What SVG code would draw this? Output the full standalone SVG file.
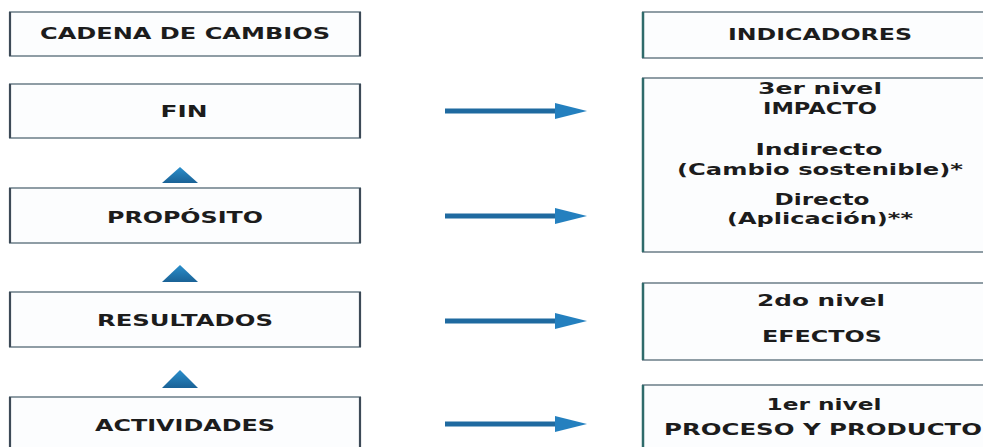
<svg xmlns="http://www.w3.org/2000/svg" width="983" height="447" viewBox="0 0 983 447">
<defs>
<style>
.box{fill:#fcfdfe;stroke:#8f9da5;stroke-width:2}
.edge{stroke:#3d4a57;stroke-width:2.2}
.edgeR{stroke:#2f6b6b;stroke-width:2.5}
.t{font-family:"DejaVu Sans","Liberation Sans",sans-serif;font-weight:bold;font-size:15px;fill:#1c1c1c;text-anchor:middle}
.arr{stroke:#1f6aa0;stroke-width:5;fill:none}
.head{fill:#2480bf}
.tri{fill:url(#tg)}
</style>
<linearGradient id="tg" x1="0" y1="0" x2="0" y2="1">
<stop offset="0" stop-color="#2a8fcc"/>
<stop offset="1" stop-color="#1a6296"/>
</linearGradient>
</defs>
<rect width="983" height="447" fill="#ffffff"/>

<g id="cadena">
<rect class="box" x="10" y="12" width="350" height="44"/>
<line class="edge" x1="10" y1="12" x2="10" y2="56"/><line class="edge" x1="360" y1="12" x2="360" y2="56"/>
<text class="t" x="185" y="39" textLength="290" lengthAdjust="spacingAndGlyphs">CADENA DE CAMBIOS</text>
</g>
<g id="fin">
<rect class="box" x="10" y="84" width="350" height="54"/>
<line class="edge" x1="10" y1="84" x2="10" y2="138"/><line class="edge" x1="360" y1="84" x2="360" y2="138"/>
<text class="t" x="184" y="117" textLength="47" lengthAdjust="spacingAndGlyphs">FIN</text>
</g>
<g id="proposito">
<rect class="box" x="10" y="188" width="350" height="55"/>
<line class="edge" x1="10" y1="188" x2="10" y2="243"/><line class="edge" x1="360" y1="188" x2="360" y2="243"/>
<text class="t" x="185" y="223" textLength="156" lengthAdjust="spacingAndGlyphs">PROPÓSITO</text>
</g>
<g id="resultados">
<rect class="box" x="10" y="292" width="350" height="55"/>
<line class="edge" x1="10" y1="292" x2="10" y2="347"/><line class="edge" x1="360" y1="292" x2="360" y2="347"/>
<text class="t" x="185" y="326" textLength="176" lengthAdjust="spacingAndGlyphs">RESULTADOS</text>
</g>
<g id="actividades">
<rect class="box" x="10" y="397" width="350" height="60"/>
<line class="edge" x1="10" y1="397" x2="10" y2="447"/><line class="edge" x1="360" y1="397" x2="360" y2="447"/>
<text class="t" x="185" y="431" textLength="180" lengthAdjust="spacingAndGlyphs">ACTIVIDADES</text>
</g>

<g id="indicadores">
<rect class="box" x="643" y="12" width="360" height="46"/>
<line class="edgeR" x1="643" y1="12" x2="643" y2="58"/>
<text class="t" x="820" y="40" textLength="184" lengthAdjust="spacingAndGlyphs">INDICADORES</text>
</g>
<g id="nivel3">
<rect class="box" x="643" y="78" width="360" height="174"/>
<line class="edgeR" x1="643" y1="78" x2="643" y2="252"/>
<text class="t" x="820" y="94" textLength="124" lengthAdjust="spacingAndGlyphs">3er nivel</text>
<text class="t" x="820" y="114" textLength="114" lengthAdjust="spacingAndGlyphs">IMPACTO</text>
<text class="t" x="819" y="155" textLength="127" lengthAdjust="spacingAndGlyphs">Indirecto</text>
<text class="t" x="820" y="175" textLength="286" lengthAdjust="spacingAndGlyphs">(Cambio sostenible)*</text>
<text class="t" x="822" y="205" textLength="95" lengthAdjust="spacingAndGlyphs">Directo</text>
<text class="t" x="820" y="224" textLength="186" lengthAdjust="spacingAndGlyphs">(Aplicación)**</text>
</g>
<g id="nivel2">
<rect class="box" x="643" y="283" width="360" height="77"/>
<line class="edgeR" x1="643" y1="283" x2="643" y2="360"/>
<text class="t" x="821" y="306" textLength="128" lengthAdjust="spacingAndGlyphs">2do nivel</text>
<text class="t" x="822" y="342" textLength="120" lengthAdjust="spacingAndGlyphs">EFECTOS</text>
</g>
<g id="nivel1">
<rect class="box" x="643" y="385" width="360" height="72"/>
<line class="edgeR" x1="643" y1="385" x2="643" y2="447"/>
<text class="t" x="824" y="410" textLength="115" lengthAdjust="spacingAndGlyphs">1er nivel</text>
<text class="t" x="823" y="435" textLength="318" lengthAdjust="spacingAndGlyphs">PROCESO Y PRODUCTO</text>
</g>

<g id="connectors">
<polygon class="tri" points="162,183 180,167 198,183"/>
<polygon class="tri" points="162,282 180,265 198,282"/>
<polygon class="tri" points="162,388 180,370 198,388"/>

<line class="arr" x1="445" y1="111" x2="558" y2="111"/>
<polygon class="head" points="555,103 587,111 555,119"/>
<line class="arr" x1="445" y1="216" x2="558" y2="216"/>
<polygon class="head" points="555,208 587,216 555,224"/>
<line class="arr" x1="445" y1="321" x2="558" y2="321"/>
<polygon class="head" points="555,313 587,321 555,329"/>
<line class="arr" x1="445" y1="424" x2="558" y2="424"/>
<polygon class="head" points="555,416 587,424 555,432"/>
</g>
</svg>
